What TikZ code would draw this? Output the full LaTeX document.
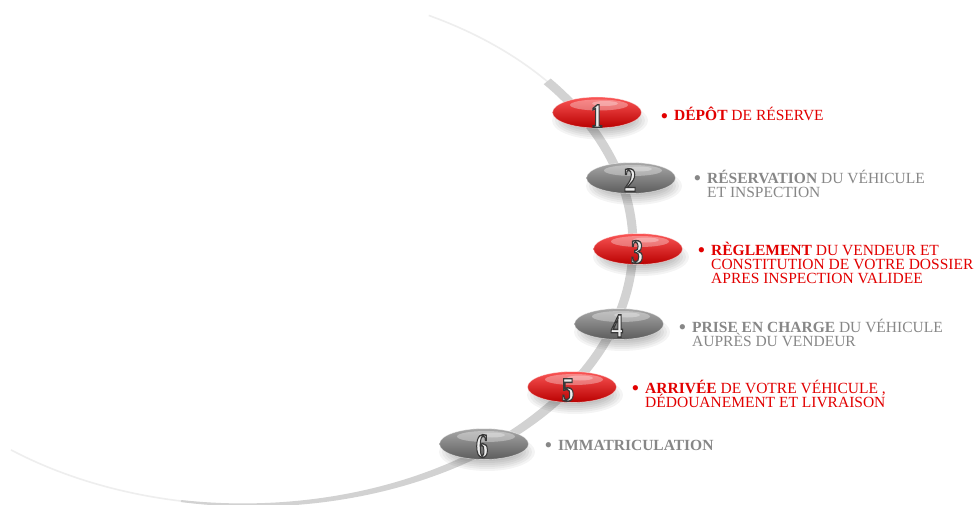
\documentclass[tikz,border=0pt]{standalone}
\usepackage{fontspec}
\setmainfont{Liberation Serif}
\usetikzlibrary{shapes.geometric,calc}
\definecolor{txtred}{RGB}{226,0,0}
\definecolor{txtgray}{RGB}{135,135,135}
\definecolor{bandgray}{RGB}{210,210,210}
\definecolor{faint}{RGB}{238,238,238}
\definecolor{rtop}{RGB}{250,85,85}
\definecolor{rmid}{RGB}{236,16,16}
\definecolor{rbot}{RGB}{185,0,0}
\definecolor{gtop}{RGB}{168,168,168}
\definecolor{gmid}{RGB}{130,130,130}
\definecolor{gbot}{RGB}{92,92,92}
\definecolor{digfill}{RGB}{236,236,236}
\tikzset{
  pill/.style={ellipse, minimum width=89pt, minimum height=31pt, inner sep=0pt},
  redpill/.style={pill, top color=rtop, middle color=rmid, bottom color=rbot},
  graypill/.style={pill, top color=gtop, middle color=gmid, bottom color=gbot},
  digitfont/.style={font=\fontsize{34}{34}\selectfont\bfseries, inner sep=0pt, text=digfill},
  item/.style={font=\fontsize{15.5}{14}\selectfont, inner sep=0pt, anchor=base west},
  gloss/.style={fill=white, fill opacity=0.33}
}
\newcommand{\outl}[1]{\special{pdf:literal direct q 2 Tr 1.4 w 0.22 0.22 0.22 RG}\scalebox{0.72}[1]{#1}\special{pdf:literal direct Q}}
\newcommand{\bul}{\llap{\raisebox{-2.3pt}{\fontsize{22}{14}\selectfont •}\hspace{6pt}}}
\newcommand{\itemlines}[1]{\vtop{\baselineskip=14pt\lineskiplimit=-100pt\lineskip=0pt #1}}
\begin{document}
\begin{tikzpicture}[x=1pt,y=-1pt]
\useasboundingbox (0,0) rectangle (976,505);
\clip (0,0) rectangle (976,505);
\fill[white] (0,0) rectangle (976,505);
% faint parts of the big ellipse
\draw[faint, line width=1.6pt] plot[domain=-62:-38,samples=40] ({248+385*cos(\x)},{245+260*sin(\x)});
\draw[faint, line width=1.6pt] plot[domain=80:128,samples=60] ({248+385*cos(\x)},{245+260*sin(\x)});
% thick band
\fill[bandgray] plot[domain=-39:100,samples=120] ({248+(385+4.5-3.5*max(0,(\x-40)/60))*cos(\x)},{245+(260+4.5-3.5*max(0,(\x-40)/60))*sin(\x)})
  -- plot[domain=100:-39,samples=120] ({248+(385-4.5+3.5*max(0,(\x-40)/60))*cos(\x)},{245+(260-4.5+3.5*max(0,(\x-40)/60))*sin(\x)}) -- cycle;
% pill positions
\coordinate (c1) at (597,112.5);
\coordinate (c2) at (631,178);
\coordinate (c3) at (638,249);
\coordinate (c4) at (619,324);
\coordinate (c5) at (572,387);
\coordinate (c6) at (484,444);
% soft shadows
\foreach \c in {c1,c2,c3,c4,c5,c6}{
  \foreach \k in {0,...,6}{
    \fill[black, fill opacity=0.045] ($(\c)+(3,8)$) ellipse [x radius={48pt-3pt*\k}, y radius={19pt-2pt*\k}];
  }
}
% pills
\node[redpill]  (e1) at (c1) {};
\node[graypill] (e2) at (c2) {};
\node[redpill]  (e3) at (c3) {};
\node[graypill] (e4) at (c4) {};
\node[redpill]  (e5) at (c5) {};
\node[graypill] (e6) at (c6) {};
\foreach \e in {e1,e2,e3,e4,e5,e6}{
  \fill[gloss] ($(\e)+(2,-7.5)$) ellipse [x radius=29pt, y radius=5.5pt];
  \fill[white, fill opacity=0.3] ($(\e)+(8,-9)$) ellipse [x radius=13pt, y radius=2.5pt];
  \draw[white, opacity=0.5, line width=0.7pt] (\e) ellipse [x radius=44.5pt, y radius=15.5pt];
}
% digits
\node[digitfont] (d1) at (597,116) {\outl{1}};
\node[digitfont] (d2) at (630,180) {\outl{2}};
\node[digitfont] (d3) at (637,252) {\outl{3}};
\node[digitfont] (d4) at (617,326) {\outl{4}};
\node[digitfont] (d5) at (568,390) {\outl{5}};
\node[digitfont] (d6) at (482,446) {\outl{6}};
% texts
\node[item, text=txtred] (t1) at (674,121) {\itemlines{\hbox{\bul\textbf{DÉPÔT} DE RÉSERVE}}};
\node[item, text=txtgray] (t2) at (707,183) {\itemlines{\hbox{\bul\textbf{RÉSERVATION} DU VÉHICULE}\hbox{ET INSPECTION}}};
\node[item, text=txtred] (t3) at (711,255) {\itemlines{\hbox{\bul\textbf{RÈGLEMENT} DU VENDEUR ET}\hbox{CONSTITUTION DE VOTRE DOSSIER}\hbox{APRES INSPECTION VALIDEE}}};
\node[item, text=txtgray] (t4) at (692,332) {\itemlines{\hbox{\bul\textbf{PRISE EN CHARGE} DU VÉHICULE}\hbox{AUPRÈS DU VENDEUR}}};
\node[item, text=txtred] (t5) at (645,393) {\itemlines{\hbox{\bul\textbf{ARRIVÉE} DE VOTRE VÉHICULE ,}\hbox{DÉDOUANEMENT ET LIVRAISON}}};
\node[item, text=txtgray] (t6) at (558,450) {\itemlines{\hbox{\bul\textbf{IMMATRICULATION}}}};
\end{tikzpicture}
\end{document}
